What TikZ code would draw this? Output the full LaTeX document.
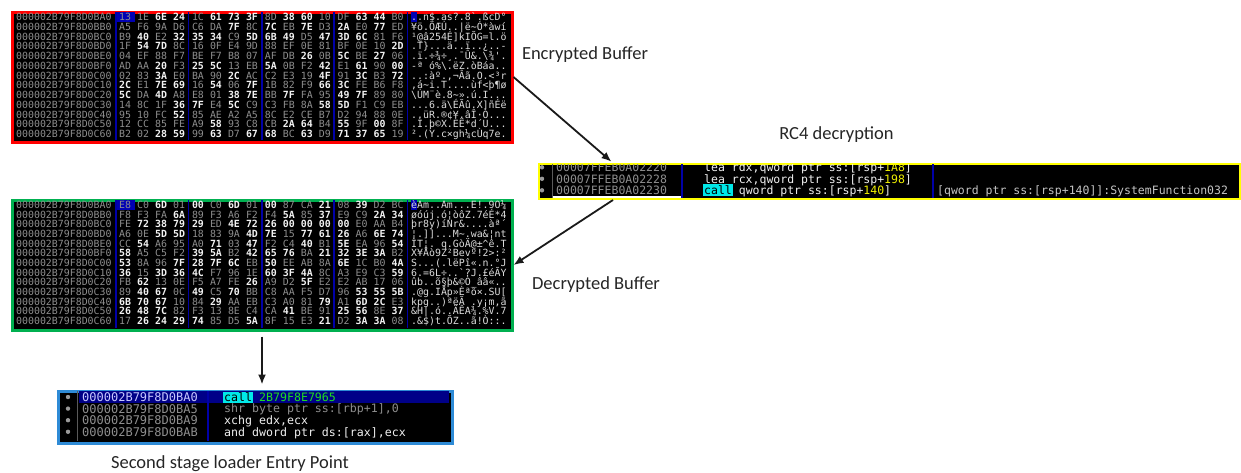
\documentclass[tikz,border=0pt]{standalone}
\usepackage{fontspec}
\setmainfont{Carlito}
\setmonofont{DejaVu Sans Mono}
\usetikzlibrary{arrows.meta,calc}
\definecolor{hgrey}{HTML}{8E8E8E}
\definecolor{hwhite}{HTML}{F2F2F2}
\definecolor{hascii}{HTML}{DCDCDC}
\definecolor{sepblue}{HTML}{0000A8}
\definecolor{sepgrey}{HTML}{5A5A5A}
\definecolor{selblue}{HTML}{0000B4}
\definecolor{selnavy}{HTML}{000088}
\definecolor{seltext}{HTML}{C8C8FF}
\definecolor{encred}{HTML}{FF0000}
\definecolor{decgreen}{HTML}{00B050}
\definecolor{rcyellow}{HTML}{FFFF00}
\definecolor{epblue}{HTML}{2E8BD6}
\definecolor{asmcyan}{HTML}{00E8E8}
\definecolor{asmgreen}{HTML}{1EE01E}
\definecolor{asmyel}{HTML}{F0F000}
\definecolor{asmwhite}{HTML}{F0F0F0}
\definecolor{cmtgrey}{HTML}{C4C4C4}
\definecolor{bulgrey}{HTML}{9A9A9A}
\definecolor{lbltext}{HTML}{262626}
\definecolor{arrowc}{HTML}{1A1A1A}

\newcommand\bytetext[1]{\ifnum"#1=0 \textcolor{hwhite}{\bfseries#1}\else\ifnum"#1<"20 \textcolor{hgrey}{#1}\else\ifnum"#1>"7F \textcolor{hgrey}{#1}\else\textcolor{hwhite}{\bfseries#1}\fi\fi\fi}
\newcommand\hexrow[5]{%
  \pgfmathsetmacro\ry{\hbase+\hstep*#2}%
  \node[haddr] (#1a#2) at (16,\ry) {#3};%
  \foreach \hb [count=\hi from 0] in {#4} {%
    \pgfmathsetmacro\bx{119+int(\hi/4)*72.8+mod(\hi,4)*18}%
    \node[hbyte] (#1b#2x\hi) at (\bx,\ry) {\bytetext{\hb}};%
  }%
  \node[hasc] (#1c#2) at (411,\ry) {#5};%
}
\newcommand\hexseps[2]{%
  \foreach \sx in {116,188.5,262,334,407.5}
    \draw[sepblue, line width=1.2pt] (\sx,#1) -- (\sx,#2);%
}

\tikzset{
  haddr/.style={anchor=base west, inner sep=0pt, font=\ttfamily\fontsize{9.9}{10}\selectfont, text=hgrey},
  hbyte/.style={haddr},
  hasc/.style={haddr, text=hascii},
  panel/.style={fill=black, inner sep=0pt, anchor=north west},
  aaddr/.style={anchor=base west, inner sep=0pt, font=\ttfamily\fontsize{11.5}{12}\selectfont, text=hgrey},
  ains/.style={anchor=base west, inner sep=0pt, font=\ttfamily\fontsize{11.5}{12}\selectfont, text=asmwhite},
  eaddr/.style={anchor=base west, inner sep=0pt, font=\ttfamily\fontsize{12}{12}\selectfont, text=hgrey},
  eins/.style={anchor=base west, inner sep=0pt, font=\ttfamily\fontsize{11.6}{12}\selectfont, text=asmwhite},
  lbl/.style={inner sep=0pt, font=\fontsize{18.5}{20}\selectfont, text=lbltext},
  arr/.style={-{Latex[length=10pt,width=8pt]}, line width=1.8pt, draw=arrowc},
}

\begin{document}
\begin{tikzpicture}[x=1pt,y=-1pt]
\useasboundingbox (0,0) rectangle (1241,472);
\fill[white] (0,0) rectangle (1241,472);

% ---------------- Encrypted buffer ----------------
\node[panel, draw=encred, line width=3pt, minimum width=500pt, minimum height=130pt] (enc) at (10.5,10.5) {};
\begin{scope}
\clip (12,12) rectangle (509,139);
\fill[selblue] (117,12) rectangle (135,22);
\fill[selblue] (410.5,12) rectangle (417,22);
\hexseps{10}{141}
\def\hbase{20.6}\def\hstep{9.75}
\hexrow{enc}{0}{000002B79F8D0BA0}{13,1E,6E,24,1C,61,73,3F,8D,38,60,10,DF,63,44,B0}{..n\$.as?.8`.ßcD°}
\hexrow{enc}{1}{000002B79F8D0BB0}{A5,F6,9A,D6,C6,DA,7F,8C,7C,EB,7E,D3,2A,E0,77,ED}{¥ö.ÖÆÚ..|ë\textasciitilde{}Ó*àwí}
\hexrow{enc}{2}{000002B79F8D0BC0}{B9,40,E2,32,35,34,C9,5D,6B,49,D5,47,3D,6C,81,F6}{¹@â254É]kIÕG=l.ö}
\hexrow{enc}{3}{000002B79F8D0BD0}{1F,54,7D,8C,16,0F,E4,9D,88,EF,0E,81,BF,0E,10,2D}{.T\}...ä..ï..¿..-}
\hexrow{enc}{4}{000002B79F8D0BE0}{04,EF,88,F7,BE,F7,B8,07,AF,DB,26,0B,5C,BE,27,06}{.ï.÷¾÷¸.¯Û\&.\textbackslash{}¾'.}
\hexrow{enc}{5}{000002B79F8D0BF0}{AD,AA,20,F3,25,5C,13,EB,5A,0B,F2,42,E1,61,90,00}{-ª ó\%\textbackslash{}.ëZ.òBáa..}
\hexrow{enc}{6}{000002B79F8D0C00}{02,83,3A,E0,BA,90,2C,AC,C2,E3,19,4F,91,3C,B3,72}{..:àº.,¬Âã.O.<³r}
\hexrow{enc}{7}{000002B79F8D0C10}{2C,E1,7E,69,16,54,06,7F,1B,82,F9,66,3C,FE,B6,F8}{,á\textasciitilde{}i.T....ùf<þ¶ø}
\hexrow{enc}{8}{000002B79F8D0C20}{5C,DA,4D,A8,E8,01,38,7E,BB,7F,FA,95,49,7F,89,80}{\textbackslash{}ÚM¨è.8\textasciitilde{}».ú.I...}
\hexrow{enc}{9}{000002B79F8D0C30}{14,8C,1F,36,7F,E4,5C,C9,C3,FB,8A,58,5D,F1,C9,EB}{...6.ä\textbackslash{}ÉÃû.X]ñÉë}
\hexrow{enc}{10}{000002B79F8D0C40}{95,10,FC,52,85,AE,A2,A5,8C,E2,CE,B7,D2,94,88,0E}{..üR.®¢¥.âÎ·Ò...}
\hexrow{enc}{11}{000002B79F8D0C50}{12,CC,85,FE,A9,58,93,C8,CB,2A,64,B4,55,9F,00,8F}{.Ì.þ©X.ÈË*d´U...}
\hexrow{enc}{12}{000002B79F8D0C60}{B2,02,28,59,99,63,D7,67,68,BC,63,D9,71,37,65,19}{².(Y.c×gh¼cÙq7e.}
\end{scope}

% ---------------- Decrypted buffer ----------------
\node[panel, draw=decgreen, line width=3pt, minimum width=500pt, minimum height=130pt] (dec) at (10.5,198.5) {};
\begin{scope}
\clip (12,200) rectangle (509,327);
\fill[selblue] (117,200) rectangle (135,210);
\fill[selblue] (410.5,200) rectangle (417,210);
\hexseps{198}{329}
\def\hbase{208.6}\def\hstep{9.67}
\hexrow{dec}{0}{000002B79F8D0BA0}{E8,C0,6D,01,00,C0,6D,01,00,87,CA,21,08,39,D2,BC}{èÀm..Àm...Ê!.9Ò¼}
\hexrow{dec}{1}{000002B79F8D0BB0}{F8,F3,FA,6A,89,F3,A6,F2,F4,5A,85,37,E9,C9,2A,34}{øóúj.ó¦òôZ.7éÉ*4}
\hexrow{dec}{2}{000002B79F8D0BC0}{FE,72,38,79,29,ED,4E,72,26,00,00,00,00,E0,AA,B4}{þr8y)íNr\&....àª´}
\hexrow{dec}{3}{000002B79F8D0BD0}{A6,0E,5D,5D,18,83,9A,4D,7E,15,77,61,26,A6,6E,74}{¦.]]...M\textasciitilde{}.wa\&¦nt}
\hexrow{dec}{4}{000002B79F8D0BE0}{CC,54,A6,95,A0,71,03,47,F2,C4,40,B1,5E,EA,96,54}{ÌT¦. q.GòÄ@±\textasciicircum{}ê.T}
\hexrow{dec}{5}{000002B79F8D0BF0}{58,A5,C5,F2,39,5A,B2,42,65,76,BA,21,32,3E,3A,B2}{X¥Åò9Z²Bevº!2>:²}
\hexrow{dec}{6}{000002B79F8D0C00}{53,8A,96,7F,28,7F,6C,EB,50,EE,AB,8A,6E,1C,B0,4A}{S...(.lëPî«.n.°J}
\hexrow{dec}{7}{000002B79F8D0C10}{36,15,3D,36,4C,F7,96,1E,60,3F,4A,8C,A3,E9,C3,59}{6.=6L÷..`?J.£éÃY}
\hexrow{dec}{8}{000002B79F8D0C20}{FB,62,13,0E,F5,A7,FE,26,A9,D2,5F,E2,E2,AB,17,06}{ûb..õ§þ\&©Ò\_ââ«..}
\hexrow{dec}{9}{000002B79F8D0C30}{89,40,67,0C,49,C5,70,BB,C8,AA,F5,D7,96,53,55,5B}{.@g.IÅp»Èªõ×.SU[}
\hexrow{dec}{10}{000002B79F8D0C40}{6B,70,67,10,84,29,AA,EB,C3,A0,81,79,A1,6D,2C,E3}{kpg..)ªëÃ .y¡m,ã}
\hexrow{dec}{11}{000002B79F8D0C50}{26,48,7C,82,F3,13,8E,C4,CA,41,BE,91,25,56,8E,37}{\&H|.ó..ÄÊA¾.\%V.7}
\hexrow{dec}{12}{000002B79F8D0C60}{17,26,24,29,74,85,D5,5A,8F,15,E3,21,D2,3A,3A,08}{.\&\$)t.ÕZ..ã!Ò::.}
\end{scope}

% ---------------- RC4 call panel ----------------
\node[panel, draw=rcyellow, line width=2pt, minimum width=701pt, minimum height=35pt] (rc4) at (538,163) {};
\begin{scope}
\clip (539,164) rectangle (1238,197);
\fill[white] (552,195.5) rectangle (682,200);
\foreach \yy in {167.3,178.8,190.3} \fill[bulgrey] (542,\yy) circle (2.2);
\draw[sepgrey, line width=1pt] (552,163) -- (552,198);
\draw[sepblue, line width=1.2pt] (682,163) -- (682,198);
\draw[sepblue, line width=1.2pt] (933,163) -- (933,198);
\node[aaddr] (ra1) at (556,171.5) {00007FFEB0A02220};
\node[aaddr] (ra2) at (556,183) {00007FFEB0A02228};
\node[aaddr] (ra3) at (556,194.5) {00007FFEB0A02230};
\fill[asmcyan] (703,184.3) rectangle (732.5,196.3);
\node[ains] (ri1) at (704,171.5) {lea rdx,qword ptr ss:[rsp+\textcolor{asmyel}{1A8}]};
\node[ains] (ri2) at (704,183) {lea rcx,qword ptr ss:[rsp+\textcolor{asmyel}{198}]};
\node[ains] (ri3) at (704,194.5) {\textcolor{black}{call} qword ptr ss:[rsp+\textcolor{asmyel}{140}]};
\node[ains, text=cmtgrey] (rc3) at (937,194.5) {[qword ptr ss:[rsp+140]]:SystemFunction032};
\end{scope}

% ---------------- Entry point panel ----------------
\node[panel, draw=epblue, line width=3pt, minimum width=394pt, minimum height=52pt] (entry) at (56.5,389.5) {};
\begin{scope}
\clip (58,391) rectangle (449,440);
\fill[selnavy] (79,391) rectangle (449,403);
\foreach \yy in {397,408.6,420.2,431.8,443.4} \fill[bulgrey] (68,\yy) circle (2.2);
\draw[sepgrey, line width=1pt] (77,389) -- (77,442);
\draw[sepblue, line width=1.2pt] (208,389) -- (208,442);
\node[eaddr, text=seltext] (ea1) at (82,401.4) {000002B79F8D0BA0};
\node[eaddr] (ea2) at (82,413) {000002B79F8D0BA5};
\node[eaddr] (ea3) at (82,424.6) {000002B79F8D0BA9};
\node[eaddr] (ea4) at (82,436.2) {000002B79F8D0BAB};
\fill[asmcyan] (223,391.5) rectangle (253,402.5);
\node[eins] (ei1) at (224,401.2) {\textcolor{black}{call} \textcolor{asmgreen}{2B79F8E7965}};
\node[eins, text=hgrey] (ei2) at (224,412.8) {shr byte ptr ss:[rbp+1],0};
\node[eins] (ei3) at (224,424.4) {xchg edx,ecx};
\node[eins] (ei4) at (224,436) {and dword ptr ds:[rax],ecx};
\end{scope}

% ---------------- Labels ----------------
\node[lbl] (encl) at (585,55) {Encrypted Buffer};
\node[lbl] (rc4l) at (836.5,135) {RC4 decryption};
\node[lbl] (decl) at (596,285) {Decrypted Buffer};
\node[lbl] (entryl) at (230,464) {Second stage loader Entry Point};

% ---------------- Connectors ----------------
\coordinate (rc4in) at ([xshift=75pt]rc4.north west);
\coordinate (rc4out) at ([xshift=75pt]rc4.south west);
\draw[arr, shorten >=2pt] (enc.east) -- (rc4in);
\draw[arr] (rc4out) -- (dec.east);
\draw[arr, shorten <=5pt, shorten >=5pt] (dec.south) -- (dec.south |- entry.north);
\end{tikzpicture}
\end{document}
